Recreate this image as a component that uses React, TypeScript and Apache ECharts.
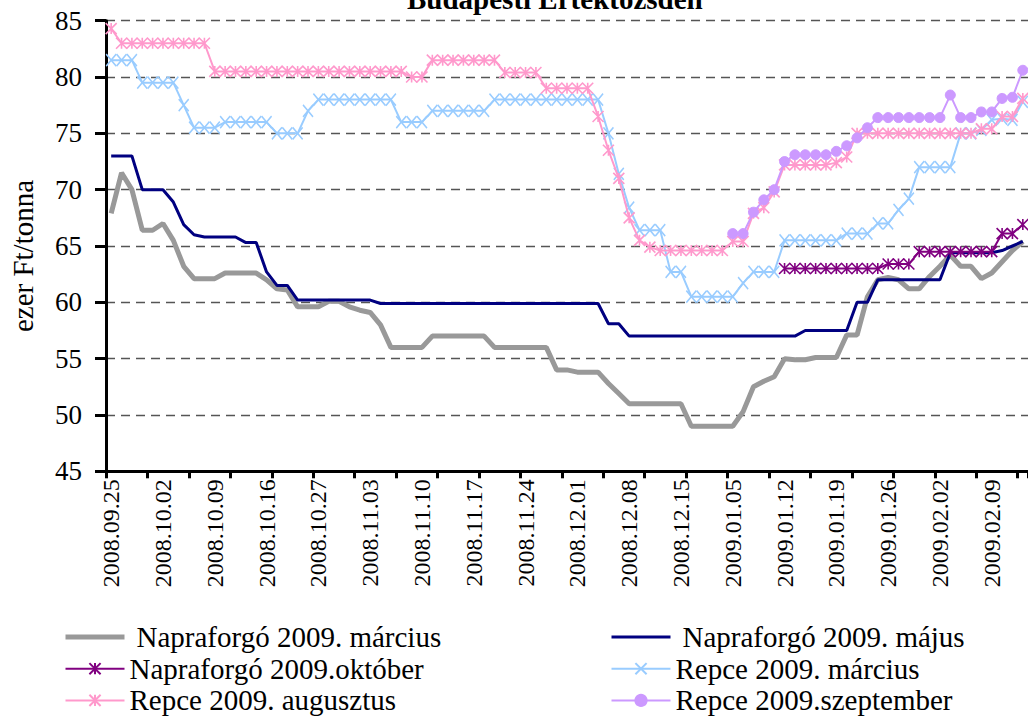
import React, { useEffect, useRef } from 'react';
import * as echarts from 'echarts';

const dates = [
  '2008.09.25', '2008.09.26', '2008.09.29', '2008.09.30', '2008.10.01',
  '2008.10.02', '2008.10.03', '2008.10.06', '2008.10.07', '2008.10.08',
  '2008.10.09', '2008.10.10', '2008.10.13', '2008.10.14', '2008.10.15',
  '2008.10.16', '2008.10.17', '2008.10.20', '2008.10.21', '2008.10.22',
  '2008.10.27', '2008.10.28', '2008.10.29', '2008.10.30', '2008.10.31',
  '2008.11.03', '2008.11.04', '2008.11.05', '2008.11.06', '2008.11.07',
  '2008.11.10', '2008.11.11', '2008.11.12', '2008.11.13', '2008.11.14',
  '2008.11.17', '2008.11.18', '2008.11.19', '2008.11.20', '2008.11.21',
  '2008.11.24', '2008.11.25', '2008.11.26', '2008.11.27', '2008.11.28',
  '2008.12.01', '2008.12.02', '2008.12.03', '2008.12.04', '2008.12.05',
  '2008.12.08', '2008.12.09', '2008.12.10', '2008.12.11', '2008.12.12',
  '2008.12.15', '2008.12.16', '2008.12.17', '2008.12.18', '2008.12.19',
  '2009.01.05', '2009.01.06', '2009.01.07', '2009.01.08', '2009.01.09',
  '2009.01.12', '2009.01.13', '2009.01.14', '2009.01.15', '2009.01.16',
  '2009.01.19', '2009.01.20', '2009.01.21', '2009.01.22', '2009.01.23',
  '2009.01.26', '2009.01.27', '2009.01.28', '2009.01.29', '2009.01.30',
  '2009.02.02', '2009.02.03', '2009.02.04', '2009.02.05', '2009.02.06',
  '2009.02.09', '2009.02.10', '2009.02.11', '2009.02.12',
];

const napraforgoMarcius = [
  67.9, 71.5, 70.0, 66.4, 66.4, 67.0, 65.5, 63.2, 62.1, 62.1,
  62.1, 62.6, 62.6, 62.6, 62.6, 62.0, 61.2, 61.1, 59.6, 59.6,
  59.6, 60.1, 60.1, 59.6, 59.3, 59.1, 58.0, 56.0, 56.0, 56.0,
  56.0, 57.0, 57.0, 57.0, 57.0, 57.0, 57.0, 56.0, 56.0, 56.0,
  56.0, 56.0, 56.0, 54.0, 54.0, 53.8, 53.8, 53.8, 52.8, 51.9,
  51.0, 51.0, 51.0, 51.0, 51.0, 51.0, 49.0, 49.0, 49.0, 49.0,
  49.0, 50.3, 52.5, 53.0, 53.4, 55.0, 54.9, 54.9, 55.1, 55.1,
  55.1, 57.1, 57.1, 60.5, 62.0, 62.2, 62.0, 61.2, 61.2, 62.3,
  63.2, 64.2, 63.2, 63.2, 62.1, 62.6, 63.6, 64.6, 65.4,
];

const napraforgoMajus = [
  73.0, 73.0, 73.0, 70.0, 70.0, 70.0, 68.9, 66.9, 66.0, 65.8,
  65.8, 65.8, 65.8, 65.3, 65.3, 62.7, 61.5, 61.5, 60.2, 60.2,
  60.2, 60.2, 60.2, 60.2, 60.2, 60.2, 59.9, 59.9, 59.9, 59.9,
  59.9, 59.9, 59.9, 59.9, 59.9, 59.9, 59.9, 59.9, 59.9, 59.9,
  59.9, 59.9, 59.9, 59.9, 59.9, 59.9, 59.9, 59.9, 58.1, 58.1,
  57.0, 57.0, 57.0, 57.0, 57.0, 57.0, 57.0, 57.0, 57.0, 57.0,
  57.0, 57.0, 57.0, 57.0, 57.0, 57.0, 57.0, 57.5, 57.5, 57.5,
  57.5, 57.5, 60.0, 60.0, 62.0, 62.0, 62.0, 62.0, 62.0, 62.0,
  62.0, 64.4, 64.4, 64.4, 64.4, 64.4, 64.6, 65.0, 65.4,
];

const napraforgoOktober = [
  null, null, null, null, null, null, null, null, null, null,
  null, null, null, null, null, null, null, null, null, null,
  null, null, null, null, null, null, null, null, null, null,
  null, null, null, null, null, null, null, null, null, null,
  null, null, null, null, null, null, null, null, null, null,
  null, null, null, null, null, null, null, null, null, null,
  null, null, null, null, null, 63.0, 63.0, 63.0, 63.0, 63.0,
  63.0, 63.0, 63.0, 63.0, 63.0, 63.4, 63.4, 63.4, 64.5, 64.5,
  64.5, 64.5, 64.5, 64.5, 64.5, 64.5, 66.1, 66.1, 66.9,
];

const repceMarcius = [
  81.5, 81.5, 81.5, 79.5, 79.5, 79.5, 79.5, 77.5, 75.5, 75.5,
  75.5, 76.0, 76.0, 76.0, 76.0, 76.0, 75.0, 75.0, 75.0, 77.0,
  78.0, 78.0, 78.0, 78.0, 78.0, 78.0, 78.0, 78.0, 76.0, 76.0,
  76.0, 77.0, 77.0, 77.0, 77.0, 77.0, 77.0, 78.0, 78.0, 78.0,
  78.0, 78.0, 78.0, 78.0, 78.0, 78.0, 78.0, 78.0, 75.0, 71.4,
  68.4, 66.4, 66.4, 66.4, 62.7, 62.7, 60.5, 60.5, 60.5, 60.5,
  60.5, 61.7, 62.7, 62.7, 62.7, 65.5, 65.5, 65.5, 65.5, 65.5,
  65.5, 66.1, 66.1, 66.1, 67.0, 67.0, 68.2, 69.2, 72.0, 72.0,
  72.0, 72.0, 75.0, 75.0, 75.3, 76.2, 76.3, 76.2, 77.8,
];

const repceAugusztus = [
  84.3, 83.0, 83.0, 83.0, 83.0, 83.0, 83.0, 83.0, 83.0, 83.0,
  80.5, 80.5, 80.5, 80.5, 80.5, 80.5, 80.5, 80.5, 80.5, 80.5,
  80.5, 80.5, 80.5, 80.5, 80.5, 80.5, 80.5, 80.5, 80.5, 80.0,
  80.0, 81.5, 81.5, 81.5, 81.5, 81.5, 81.5, 81.5, 80.4, 80.4,
  80.4, 80.4, 79.0, 79.0, 79.0, 79.0, 79.0, 76.5, 73.5, 71.0,
  67.5, 65.5, 64.9, 64.6, 64.6, 64.6, 64.6, 64.6, 64.6, 64.6,
  65.4, 65.4, 67.9, 68.4, 69.8, 72.2, 72.2, 72.2, 72.2, 72.2,
  72.4, 72.9, 75.0, 75.0, 75.0, 75.0, 75.0, 75.0, 75.0, 75.0,
  75.0, 75.0, 75.0, 75.0, 75.4, 75.4, 76.5, 76.5, 78.1,
];

const repceSzeptember = [
  null, null, null, null, null, null, null, null, null, null,
  null, null, null, null, null, null, null, null, null, null,
  null, null, null, null, null, null, null, null, null, null,
  null, null, null, null, null, null, null, null, null, null,
  null, null, null, null, null, null, null, null, null, null,
  null, null, null, null, null, null, null, null, null, null,
  66.1, 66.1, 68.0, 69.1, 70.0, 72.5, 73.1, 73.1, 73.1, 73.1,
  73.4, 73.9, 74.6, 75.5, 76.4, 76.4, 76.4, 76.4, 76.4, 76.4,
  76.4, 78.4, 76.4, 76.4, 76.9, 76.9, 78.1, 78.2, 80.6,
];

const yTicks = { min: 45, max: 85, step: 5 };

const SERIF = 'Liberation Serif';
const STAR = 'path://M5 0L5 10M0 0L10 10M10 0L0 10';
const CROSS = 'path://M0 0L10 10M10 0L0 10';

export default function App() {
  const ref = useRef<HTMLDivElement>(null);

  useEffect(() => {
    if (!ref.current) return;
    const chart = echarts.init(ref.current, null, { renderer: 'svg' });

    const names = {
      nm: 'Napraforgó 2009. március',
      nj: 'Napraforgó 2009. május',
      no: 'Napraforgó 2009.október',
      rm: 'Repce 2009. március',
      ra: 'Repce 2009. augusztus',
      rs: 'Repce 2009.szeptember',
    };

    const legendBase = {
      orient: 'vertical',
      top: 622,
      padding: 0,
      itemWidth: 59,
      itemHeight: 14,
      itemGap: 1.7,
      selectedMode: false,
      textStyle: { fontFamily: SERIF, fontSize: 29, color: '#000', lineHeight: 30 },
    };

    const option: any = {
      animation: false,
      backgroundColor: '#fff',
      textStyle: { fontFamily: SERIF },
      graphic: [
        {
          type: 'text',
          x: 407,
          y: -16,
          style: {
            text: 'Budapesti Értéktőzsdén',
            font: 'bold 29px Liberation Serif',
            fill: '#000',
          },
        },
        {
          type: 'text',
          x: 23,
          y: 256,
          rotation: Math.PI / 2,
          style: {
            text: 'ezer Ft/tonna',
            fontFamily: SERIF,
            fontSize: 29,
            fill: '#000',
            align: 'center',
            verticalAlign: 'middle',
          },
        },
      ],
      legend: [
        {
          ...legendBase,
          left: 63,
          data: [
            { name: names.nm, lineStyle: { width: 5 }, itemStyle: { opacity: 0 }, textStyle: { padding: [0, 0, 0, 7] } },
            { name: names.no, lineStyle: { width: 2 } },
            { name: names.ra, lineStyle: { width: 2 } },
          ],
        },
        {
          ...legendBase,
          left: 610,
          data: [
            { name: names.nj, lineStyle: { width: 3 }, itemStyle: { opacity: 0 }, textStyle: { padding: [0, 0, 0, 7] } },
            { name: names.rm, lineStyle: { width: 2 } },
            { name: names.rs, lineStyle: { width: 2 } },
          ],
        },
      ],
      grid: { left: 106, top: 20.7, width: 925.6, height: 450.6, containLabel: false },
      xAxis: {
        type: 'category',
        data: dates,
        boundaryGap: true,
        axisLine: { show: true, lineStyle: { color: '#000', width: 3 } },
        axisTick: { show: true, interval: 3, length: 7, lineStyle: { color: '#000', width: 3 } },
        axisLabel: {
          interval: 4,
          rotate: 90,
          margin: 8,
          fontFamily: SERIF,
          fontSize: 24,
          color: '#000',
        },
        splitLine: { show: false },
      },
      yAxis: {
        type: 'value',
        min: yTicks.min,
        max: yTicks.max,
        interval: yTicks.step,
        axisLine: { show: true, lineStyle: { color: '#000', width: 3 } },
        axisTick: { show: true, length: 11, lineStyle: { color: '#000', width: 3 } },
        axisLabel: { margin: 24, fontFamily: SERIF, fontSize: 27, color: '#000' },
        splitLine: { show: true, lineStyle: { color: '#555', width: 1.3, type: [9, 6] } },
      },
      series: [
        {
          name: names.nm,
          type: 'line',
          data: napraforgoMarcius,
          symbol: 'none',
          lineStyle: { color: '#999999', width: 5 },
          itemStyle: { color: '#999999' },
          z: 2,
        },
        {
          name: names.nj,
          type: 'line',
          data: napraforgoMajus,
          symbol: 'none',
          lineStyle: { color: '#000080', width: 3 },
          itemStyle: { color: '#000080' },
          z: 3,
        },
        {
          name: names.no,
          type: 'line',
          data: napraforgoOktober,
          symbol: STAR,
          symbolSize: [11, 11],
          showAllSymbol: true,
          lineStyle: { color: '#800080', width: 2 },
          itemStyle: { color: '#800080', borderColor: '#800080', borderWidth: 1.6 },
          z: 4,
        },
        {
          name: names.rm,
          type: 'line',
          data: repceMarcius,
          symbol: CROSS,
          symbolSize: [10, 12],
          showAllSymbol: true,
          lineStyle: { color: '#99CCFF', width: 2 },
          itemStyle: { color: '#99CCFF', borderColor: '#99CCFF', borderWidth: 1.6 },
          z: 5,
        },
        {
          name: names.ra,
          type: 'line',
          data: repceAugusztus,
          symbol: STAR,
          symbolSize: [11, 11],
          showAllSymbol: true,
          lineStyle: { color: '#FF99CC', width: 2 },
          itemStyle: { color: '#FF99CC', borderColor: '#FF99CC', borderWidth: 1.6 },
          z: 6,
        },
        {
          name: names.rs,
          type: 'line',
          data: repceSzeptember,
          symbol: 'circle',
          symbolSize: 10,
          showAllSymbol: true,
          lineStyle: { color: '#CC99FF', width: 2 },
          itemStyle: { color: '#CC99FF', borderColor: '#CC99FF', borderWidth: 1 },
          z: 7,
        },
      ],
    };

    chart.setOption(option);
    return () => chart.dispose();
  }, []);

  return (
    <div
      ref={ref}
      style={{ position: 'absolute', left: 0, top: 0, width: 1028, height: 718, background: '#fff' }}
    />
  );
}
